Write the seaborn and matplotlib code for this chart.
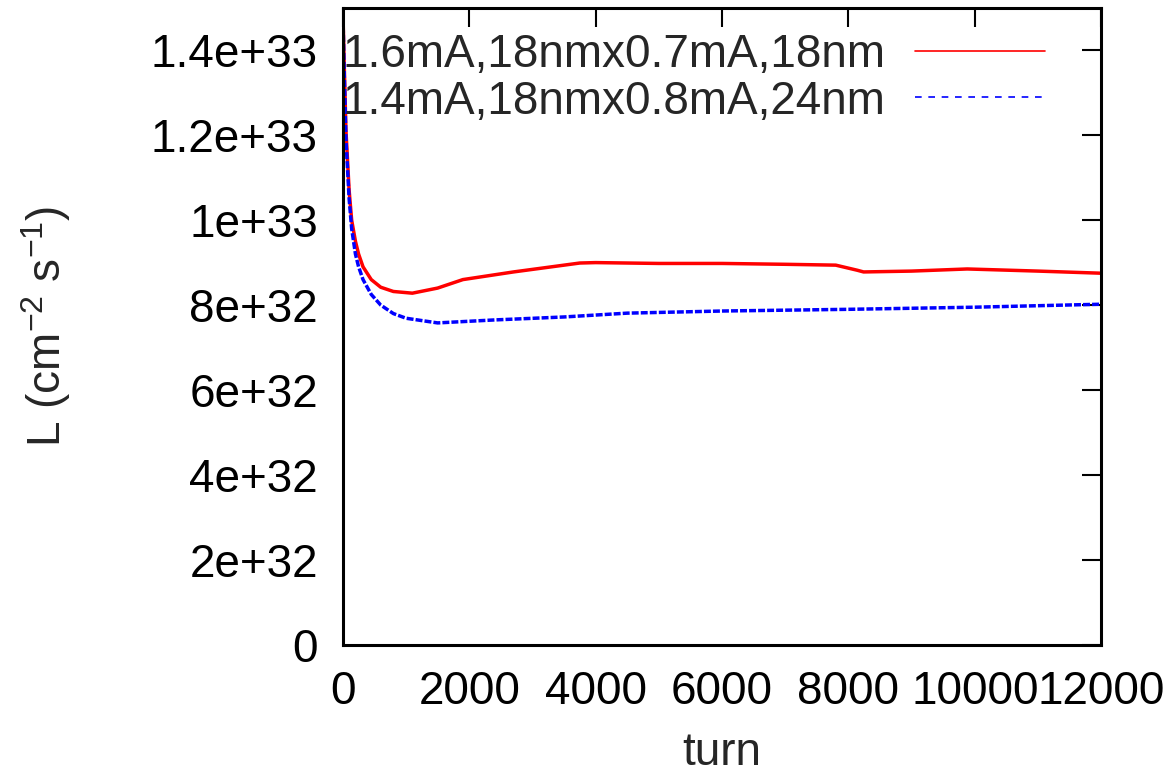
import matplotlib
matplotlib.use("Agg")
import matplotlib.pyplot as plt
import seaborn as sns
import pandas as pd

# Data
turn_red = [0, 20, 50, 100, 140, 200, 250, 320, 450, 600, 800, 1100, 1500, 1900, 2700, 3750, 4000,
            5000, 6000, 7000, 7800, 8140, 8240, 9000, 9880, 11000, 12000]
lum_red = [1.50e33, 1.38e33, 1.21e33, 1.07e33, 1.00e33, 9.5e32, 9.2e32, 8.9e32, 8.6e32, 8.42e32,
           8.32e32, 8.28e32, 8.40e32, 8.60e32, 8.78e32, 8.99e32, 9.0e32,
           8.98e32, 8.98e32, 8.96e32, 8.94e32, 8.82e32, 8.78e32, 8.80e32, 8.85e32, 8.80e32, 8.75e32]

turn_blue = [0, 20, 50, 100, 140, 200, 250, 320, 450, 600, 800, 1000, 1500, 2400, 3500, 4500,
             6000, 8000, 10000, 12000]
lum_blue = [1.50e33, 1.36e33, 1.19e33, 1.05e33, 9.8e32, 9.2e32, 8.9e32, 8.6e32, 8.25e32, 8.0e32,
            7.8e32, 7.69e32, 7.58e32, 7.65e32, 7.72e32, 7.81e32, 7.86e32, 7.90e32, 7.95e32, 8.02e32]

labels = ["1.6mA,18nmx0.7mA,18nm", "1.4mA,18nmx0.8mA,24nm"]
x_ticks = [0, 2000, 4000, 6000, 8000, 10000, 12000]
y_ticks = [0, 2e32, 4e32, 6e32, 8e32, 1e33, 1.2e33, 1.4e33]
y_tick_labels = ["0", "2e+32", "4e+32", "6e+32", "8e+32", "1e+33", "1.2e+33", "1.4e+33"]

df = pd.concat([
    pd.DataFrame({"turn": turn_red, "L": lum_red, "series": labels[0]}),
    pd.DataFrame({"turn": turn_blue, "L": lum_blue, "series": labels[1]}),
])

sns.set_theme(style="white")
plt.rcParams['font.family'] = ['Liberation Sans', 'DejaVu Sans']
plt.rcParams['mathtext.default'] = 'regular'

FS = 33

fig = plt.figure(figsize=(11.74, 7.76), dpi=100)
ax = fig.add_axes([0.292, 0.169, 0.646, 0.821])

sns.lineplot(data=df, x="turn", y="L", hue="series", style="series",
             palette={labels[0]: "#ff0000", labels[1]: "#0000ff"},
             dashes={labels[0]: "", labels[1]: (2, 0.6)},
             linewidth=2.5, ax=ax, sort=False, estimator=None)

ax.set_xlim(0, 12000)
ax.set_ylim(0, 1.5e33)
ax.set_xticks(x_ticks)
ax.set_xticklabels([str(t) for t in x_ticks],
                   family=['Liberation Sans Narrow', 'Liberation Sans', 'DejaVu Sans'])
ax.set_yticks(y_ticks)
ax.set_yticklabels(y_tick_labels)
ax.tick_params(axis="both", direction="in", length=14, width=1.5, labelsize=FS,
               top=True, right=True, colors="black")
ax.tick_params(axis="y", pad=18)
ax.tick_params(axis="x", pad=18)
for s in ax.spines.values():
    s.set_visible(True)
    s.set_linewidth(2.2)
    s.set_color("black")

ax.set_xlabel("turn", fontsize=FS, labelpad=12)
ax.set_ylabel("L (cm$^{-2}$ s$^{-1}$)", fontsize=FS, labelpad=56)

leg = ax.legend(loc="upper right", frameon=False, fontsize=FS, markerfirst=False,
                handlelength=2.84, handletextpad=0.65, labelspacing=0.05,
                borderpad=0, borderaxespad=0, bbox_to_anchor=(0.926, 0.96))
for h in leg.get_lines():
    h.set_linewidth(1.2)
leg.get_lines()[1].set_dashes((4, 4))

fig.savefig("out.png", dpi=100)
